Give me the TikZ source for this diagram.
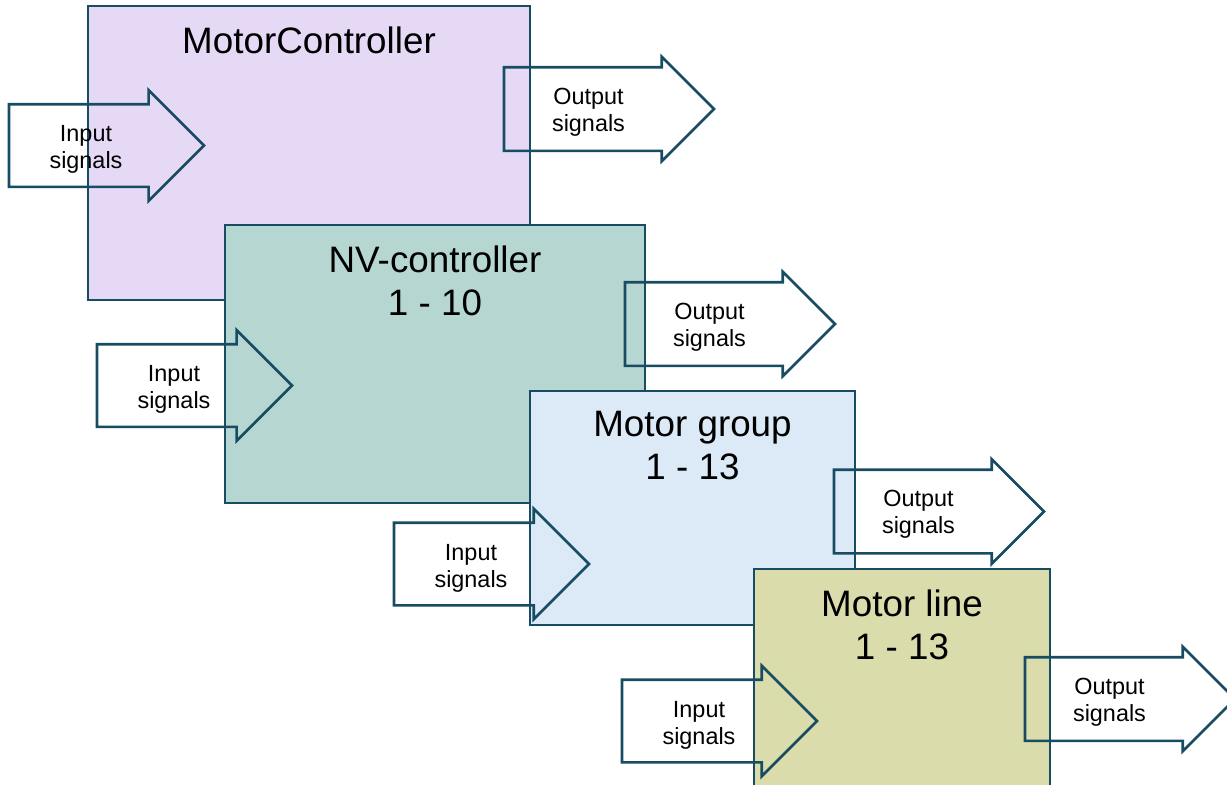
\documentclass[tikz,border=0pt]{standalone}
\usepackage{fontspec}
\setmainfont{Liberation Sans}
\usetikzlibrary{shapes.arrows,positioning}
\definecolor{mcline}  {RGB}{23,76,99}
\definecolor{mcpurple}{RGB}{230,217,246}
\definecolor{nvteal}  {RGB}{181,214,209}
\definecolor{mgblue}  {RGB}{220,233,246}
\definecolor{mlolive} {RGB}{218,220,172}
\tikzset{
  blk/.style={rectangle,draw=mcline,fill=#1,line width=1.3pt,
              anchor=north west,inner sep=0pt,outer sep=0pt},
  ttl/.style={anchor=north,inner sep=0pt,align=center,
              font=\fontsize{18.4}{21.5}\selectfont},
  sigarr/.style={single arrow,draw=mcline,line width=1.3pt,inner xsep=0pt,
                 outer sep=0pt,anchor=tail,single arrow tip angle=90},
  inarr/.style={sigarr,inner ysep=20pt,minimum height=97.5pt,minimum width=54pt,
                single arrow head extend=7pt},
  outarr/.style={sigarr,inner ysep=20.25pt,minimum height=105pt,minimum width=51pt,
                 single arrow head extend=5.25pt},
  sig/.style={inner sep=0pt,align=center,
              font=\fontsize{11.7}{13.5}\selectfont},
}
\begin{document}
\begin{tikzpicture}[x=0.5pt,y=-0.5pt]
  \useasboundingbox (0,0) rectangle (1227,784);
  \clip (0,0) rectangle (1227,784);

  % Blocks, each one above the previous
  \node[blk=mcpurple, minimum width=221pt, minimum height=147pt] (mc) at (88,6) {};
  \node[ttl] (mct) at ([yshift=-10pt]mc.north) {MotorController};

  \node[blk=nvteal, minimum width=210pt, minimum height=139pt] (nv) at (225,225) {};
  \node[ttl] (nvt) at ([yshift=-10pt]nv.north) {NV-controller\\1 - 10};

  \node[blk=mgblue, minimum width=162.5pt, minimum height=117pt] (mg) at (530,391) {};
  \node[ttl] (mgt) at ([yshift=-10pt]mg.north) {Motor group\\1 - 13};

  \node[blk=mlolive, minimum width=148pt, minimum height=130pt] (ml) at (754,569) {};
  \node[ttl] (mlt) at ([yshift=-10pt]ml.north) {Motor line\\1 - 13};

  % Input arrows
  \foreach \nm/\tx/\ty in {mcin/9/145.5, nvin/97/385.5, mgin/394/564, mlin/622/721} {
    \node[inarr] (\nm) at (\tx,\ty) {};
    \node[sig] (\nm-t) at ([xshift=38.5pt, yshift=-2pt]\nm.tail) {Input\\signals};
  }

  % Output arrows
  \foreach \nm/\tx/\ty in {mcout/504/109, nvout/625/324, mgout/834/511.5, mlout/1025/699} {
    \node[outarr] (\nm) at (\tx,\ty) {};
    \node[sig] (\nm-t) at ([xshift=42.25pt, yshift=-1.5pt]\nm.tail) {Output\\signals};
  }
\end{tikzpicture}
\end{document}
